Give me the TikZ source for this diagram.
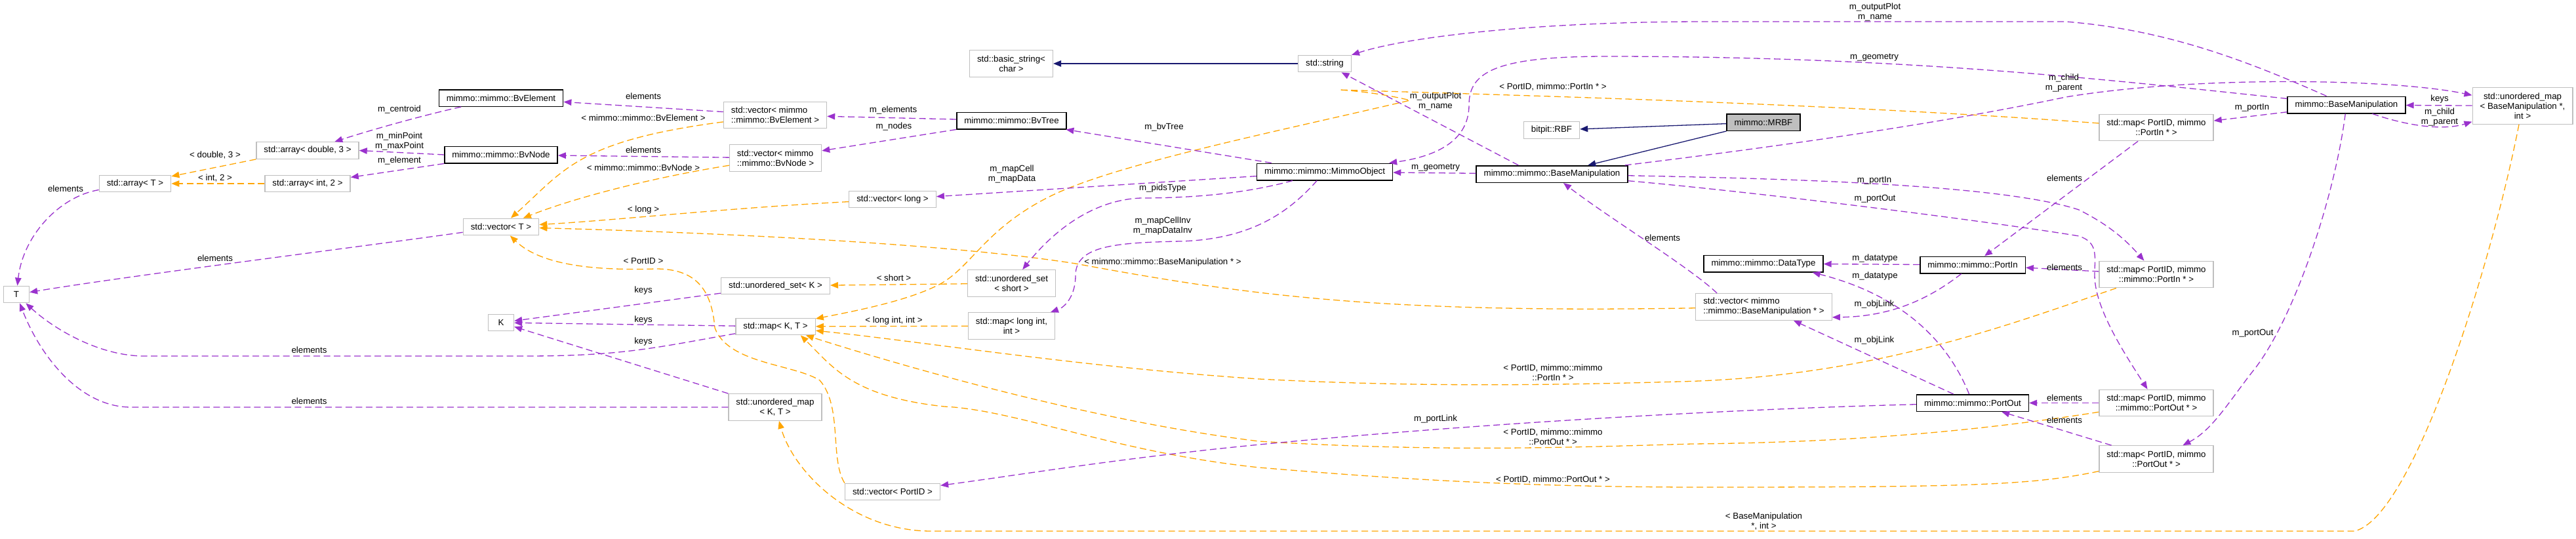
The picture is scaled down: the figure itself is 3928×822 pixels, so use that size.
\documentclass[tikz,border=0pt]{standalone}
\usepackage{fontspec}
\setmainfont{Liberation Sans}
\usepackage{tikz}
\usetikzlibrary{arrows.meta}
\definecolor{mpurple}{HTML}{9A32CD}
\definecolor{morange}{HTML}{FFA500}
\definecolor{mnavy}{HTML}{191970}
\definecolor{mgray}{HTML}{BFBFBF}
\newcommand{\dxfont}{\fontsize{13.3}{15}\selectfont}

\begin{document}
\begin{tikzpicture}[x=1pt,y=-1pt,
    cls/.style={draw=mgray,line width=1.3pt,fill=white,font=\dxfont,inner xsep=11.5pt,inner ysep=4pt,minimum height=25.5pt,align=center},
    doccls/.style={cls,draw=black,line width=1.5pt},
    twoline/.style={minimum height=40.5pt},
    threeline/.style={minimum height=55.5pt},
    member/.style={draw=mpurple,line width=1.3pt,dash pattern=on 10pt off 5.5pt,-{Triangle[length=12pt,width=9.5pt]}},
    tinst/.style={member,draw=morange},
    inherit/.style={draw=mnavy,line width=1.3pt,-{Triangle[length=12pt,width=9.5pt]}},
    lbl/.style={font=\dxfont,text=black,inner sep=0pt,align=center}]
  \useasboundingbox (0,0) rectangle (3928,822);

  % classes, column by column from the left
  \node[cls,minimum width=39pt] (tT) at (25,449) {T};
  \node[cls] (arrT) at (206,280) {std::array< T >};
  \node[cls] (arrDbl) at (469,229.5) {std::array< double, 3 >};
  \node[cls] (arrInt) at (469,280) {std::array< int, 2 >};
  \node[doccls] (bvElem) at (764,149.5) {mimmo::mimmo::BvElement};
  \node[doccls] (bvNode) at (764,236) {mimmo::mimmo::BvNode};
  \node[cls] (vecT) at (764,346) {std::vector< T >};
  \node[cls,minimum width=39pt] (tK) at (764,492) {K};
  \node[cls,twoline,align=left] (vecBvElem) at (1182,175.5) {std::vector< mimmo\\::mimmo::BvElement >};
  \node[cls,twoline,align=left] (vecBvNode) at (1182.5,241) {std::vector< mimmo\\::mimmo::BvNode >};
  \node[cls] (usetK) at (1182.5,436) {std::unordered\_set< K >};
  \node[cls] (mapKT) at (1182.5,498) {std::map< K, T >};
  \node[cls,twoline] (umapKT) at (1182,621) {std::unordered\_map\\< K, T >};
  \node[cls,twoline] (bstr) at (1542,97) {std::basic\_string<\\char >};
  \node[doccls] (bvTree) at (1542.5,184) {mimmo::mimmo::BvTree};
  \node[cls] (vecLong) at (1361,304) {std::vector< long >};
  \node[cls,twoline] (usetShort) at (1542.5,432) {std::unordered\_set\\< short >};
  \node[cls,twoline] (mapLong) at (1542.5,497) {std::map< long int,\\int >};
  \node[cls] (vecPid) at (1361,750) {std::vector< PortID >};
  \node[cls] (sstr) at (2020,97) {std::string};
  \node[doccls] (mObj) at (2020,262) {mimmo::mimmo::MimmoObject};
  \node[cls] (rbf) at (2366,198.5) {bitpit::RBF};
  \node[doccls] (bManip) at (2366.5,265.5) {mimmo::mimmo::BaseManipulation};
  \node[doccls,fill=mgray] (mrbf) at (2689,186.5) {mimmo::MRBF};
  \node[doccls] (dType) at (2689,402) {mimmo::mimmo::DataType};
  \node[cls,twoline,align=left] (vecBM) at (2689.5,468) {std::vector< mimmo\\::mimmo::BaseManipulation * >};
  \node[doccls] (pIn) at (3008,404) {mimmo::mimmo::PortIn};
  \node[doccls] (pOut) at (3008,614.5) {mimmo::mimmo::PortOut};
  \node[cls,twoline] (mapPin) at (3288,194.5) {std::map< PortID, mimmo\\::PortIn * >};
  \node[cls,twoline] (mapPinM) at (3288,418.5) {std::map< PortID, mimmo\\::mimmo::PortIn * >};
  \node[cls,twoline] (mapPoutM) at (3288,614.5) {std::map< PortID, mimmo\\::mimmo::PortOut * >};
  \node[cls,twoline] (mapPout) at (3288,700) {std::map< PortID, mimmo\\::PortOut * >};
  \node[doccls] (bManip2) at (3578,160) {mimmo::BaseManipulation};
  \node[cls,threeline] (umapBM) at (3846.5,161.5) {std::unordered\_map\\< BaseManipulation *,\\int >};

  % inheritance
  \draw[inherit] (sstr) -- (bstr);
  \draw[inherit] (mrbf) -- (rbf);
  \draw[inherit] (mrbf.south west) -- (bManip);

  % left part
  \draw[member] (bvElem) .. controls (640,177) and (560,200) .. (arrDbl) node[lbl] at (609,167) {m\_centroid};
  \draw[member] (bvNode.west) -- (arrDbl.east) node[lbl] at (609,215) {m\_minPoint\\m\_maxPoint};
  \draw[member] (bvNode.south west) -- (arrInt) node[lbl] at (609,245) {m\_element};
  \draw[tinst] (arrDbl.south west) -- (arrT) node[lbl] at (328,237) {< double, 3 >};
  \draw[tinst] (arrInt) -- (arrT) node[lbl] at (328,272) {< int, 2 >};
  \draw[member] (arrT) .. controls (90,300) and (35,360) .. (tT) node[lbl] at (100,288) {elements};
  \draw[member] (vecT) .. controls (560,375) and (200,420) .. (tT) node[lbl] at (328,394) {elements};
  \draw[member] (mapKT) .. controls (1000,530) and (950,543) .. (800,543) -- (220,543)
    .. controls (150,543) and (80,500) .. (tT) node[lbl] at (471.5,534) {elements};
  \draw[member] (umapKT) -- (200,621) .. controls (120,621) and (60,540) .. (tT) node[lbl] at (471.5,612) {elements};
  \draw[member] (usetK) -- (tK) node[lbl] at (981,443) {keys};
  \draw[member] (mapKT) -- (tK) node[lbl] at (981,488) {keys};
  \draw[member] (umapKT.north west) -- (tK) node[lbl] at (981,521) {keys};
  \draw[member] (vecBvElem) -- (bvElem) node[lbl] at (981,147) {elements};
  \draw[tinst] (vecBvElem) .. controls (880,215) and (860,260) .. (vecT) node[lbl] at (981,180) {< mimmo::mimmo::BvElement >};
  \draw[member] (vecBvNode) -- (bvNode) node[lbl] at (981,229) {elements};
  \draw[tinst] (vecBvNode) .. controls (1000,270) and (880,300) .. (vecT) node[lbl] at (981,256) {< mimmo::mimmo::BvNode >};
  \draw[tinst] (vecLong) .. controls (1100,318) and (950,335) .. (vecT) node[lbl] at (981,320) {< long >};
  \draw[tinst] (vecBM) .. controls (2100,478) and (1900,450) .. (1640,402)
    .. controls (1450,372) and (1100,355) .. (vecT) node[lbl] at (1773,400) {< mimmo::mimmo::BaseManipulation * >};
  \draw[tinst] (vecPid.north west) .. controls (1265,700) and (1285,620) .. (1250,580)
    .. controls (1210,555) and (1110,555) .. (1090,500) .. controls (1085,440) and (1060,410) .. (1000,410)
    .. controls (930,412) and (830,410) .. (vecT) node[lbl] at (981,398) {< PortID >};
  \draw[tinst] (umapBM) .. controls (3800,400) and (3680,790) .. (3590,810) -- (1420,810)
    .. controls (1300,810) and (1210,720) .. (umapKT) node[lbl] at (2689.5,795) {< BaseManipulation\\*, int >};
  \draw[tinst] (usetShort) -- (usetK) node[lbl] at (1363,424) {< short >};
  \draw[tinst] (mapLong) -- (mapKT) node[lbl] at (1363,489) {< long int, int >};

  % template maps into std::map< K, T >
  \draw[tinst] (mapPin) .. controls (2800,158) and (2300,145) .. (2042,137) .. controls (2090,140) and (2130,148) .. (2150,153)
    .. controls (1950,200) and (1700,250) .. (1600,300) .. controls (1500,350) and (1480,410) .. (1430,435)
    .. controls (1380,460) and (1300,475) .. (mapKT) node[lbl] at (2368,133) {< PortID, mimmo::PortIn * >};
  \draw[tinst] (mapPinM) .. controls (3050,500) and (2850,575) .. (2560,582) .. controls (2350,588) and (2150,590) .. (1920,578)
    .. controls (1650,560) and (1400,520) .. (mapKT) node[lbl] at (2368,568) {< PortID, mimmo::mimmo\\::PortIn * >};
  \draw[tinst] (mapPoutM) .. controls (3000,660) and (2800,675) .. (2580,677) .. controls (2400,682) and (2200,690) .. (1920,673)
    .. controls (1650,640) and (1350,550) .. ([xshift=-15pt]mapKT.south east) node[lbl] at (2368,666) {< PortID, mimmo::mimmo\\::PortOut * >};
  \draw[tinst] (mapPout) .. controls (3100,740) and (3000,743) .. (2600,743) .. controls (2300,743) and (2100,728) .. (1920,713)
    .. controls (1700,690) and (1550,625) .. (1440,620) .. controls (1300,605) and (1270,560) .. ([xshift=-23pt]mapKT.south east)
    node[lbl] at (2368,732) {< PortID, mimmo::PortOut * >};

  % middle part
  \draw[member] (bvTree) -- (vecBvElem) node[lbl] at (1362,168) {m\_elements};
  \draw[member] (bvTree.south west) -- (vecBvNode) node[lbl] at (1363,193) {m\_nodes};
  \draw[member] ([xshift=23pt]mObj.north west) -- (bvTree) node[lbl] at (1775,194) {m\_bvTree};
  \draw[member] (mObj) -- (vecLong) node[lbl] at (1543,266) {m\_mapCell\\m\_mapData};
  \draw[member] (mObj) .. controls (1900,295) and (1820,302) .. (1740,302)
    .. controls (1660,305) and (1600,360) .. (usetShort) node[lbl] at (1773,287) {m\_pidsType};
  \draw[member] (mObj) .. controls (1960,330) and (1900,365) .. (1800,368) .. controls (1700,370) and (1640,375) .. (1640,420)
    .. controls (1640,450) and (1625,468) .. (mapLong) node[lbl] at (1773,345) {m\_mapCellInv\\m\_mapDataInv};
  \draw[member] (bManip) -- (mObj) node[lbl] at (2189,256) {m\_geometry};
  \draw[member] ([xshift=65pt]bManip.north west) -- (sstr) node[lbl] at (2189,155) {m\_outputPlot\\m\_name};
  \draw[member] (bManip2) .. controls (3200,120) and (2900,86) .. (2450,86) .. controls (2280,86) and (2240,110) .. (2240,160)
    .. controls (2240,220) and (2180,240) .. (mObj) node[lbl] at (2858,88) {m\_geometry};
  \draw[member] (bManip2) .. controls (3420,90) and (3300,45) .. (3150,33) -- (2600,33)
    .. controls (2350,33) and (2150,55) .. (sstr) node[lbl] at (2859,19) {m\_outputPlot\\m\_name};

  % right part
  \draw[member] (bManip2) -- (mapPin) node[lbl] at (3434,164) {m\_portIn};
  \draw[member] (umapBM) -- (bManip2) node[lbl] at (3720,151) {keys};
  \draw[member] (bManip2) .. controls (3680,195) and (3730,198) .. (umapBM) node[lbl] at (3720,179) {m\_child\\m\_parent};
  \draw[member] (bManip) .. controls (2700,225) and (2950,190) .. (3150,148)
    .. controls (3350,115) and (3650,120) .. (umapBM) node[lbl] at (3147,127) {m\_child\\m\_parent};
  \draw[member] (bManip) .. controls (2700,272) and (3050,280) .. (3170,320)
    .. controls (3220,345) and (3245,370) .. (mapPinM) node[lbl] at (2858,275) {m\_portIn};
  \draw[member] (bManip) .. controls (2700,295) and (3050,340) .. (3170,360) .. controls (3200,370) and (3194,390) .. (3194,420)
    .. controls (3194,470) and (3240,540) .. (mapPoutM) node[lbl] at (2859,303) {m\_portOut};
  \draw[member] (bManip2) .. controls (3560,300) and (3500,480) .. (3440,560)
    .. controls (3400,610) and (3375,655) .. (mapPout) node[lbl] at (3435,508) {m\_portOut};
  \draw[member] (mapPin) -- (pIn) node[lbl] at (3148,272) {elements};
  \draw[member] (mapPinM) -- (pIn) node[lbl] at (3148,408) {elements};
  \draw[member] (mapPoutM) -- (pOut) node[lbl] at (3148,607) {elements};
  \draw[member] (mapPout) -- (pOut) node[lbl] at (3148,641) {elements};
  \draw[member] (pIn) -- (dType) node[lbl] at (2859,394) {m\_datatype};
  \draw[member] (pOut) .. controls (2970,520) and (2900,450) .. ([xshift=-17pt]dType.south east) node[lbl] at (2859,421) {m\_datatype};
  \draw[member] (pIn) .. controls (2930,465) and (2870,483) .. ([yshift=5pt]vecBM.south east) node[lbl] at (2858,464) {m\_objLink};
  \draw[member] (pOut) -- (vecBM) node[lbl] at (2858,519) {m\_objLink};
  \draw[member] ([xshift=33pt]vecBM.north west) .. controls (2580,410) and (2450,330) .. (bManip) node[lbl] at (2535,363) {elements};
  \draw[member] (pOut) .. controls (2600,625) and (2200,650) .. (1900,680)
    .. controls (1700,700) and (1550,725) .. (vecPid) node[lbl] at (2189,639) {m\_portLink};
\end{tikzpicture}
\end{document}
